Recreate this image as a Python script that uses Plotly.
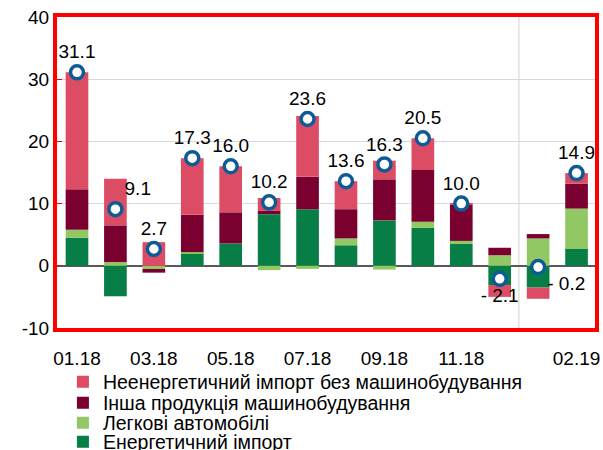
import plotly.graph_objects as go

categories = ["01.18", "02.18", "03.18", "04.18", "05.18", "06.18", "07.18",
              "08.18", "09.18", "10.18", "11.18", "12.18", "01.19", "02.19"]
tick_labels = ["01.18", "03.18", "05.18", "07.18", "09.18", "11.18", "02.19"]
y_ticks = [-10, 0, 10, 20, 30, 40]
y_tick_text = ["-10", "0", "10", "20", "30", "40"]

energy = [4.5, -4.9, 0.0, 2.0, 3.6, 8.3, 9.1, 3.3, 7.3, 6.1, 3.5, -3.1, -3.5, 2.7]
cars = [1.3, 0.6, -0.5, 0.2, 0.0, -0.7, -0.5, 1.1, -0.6, 1.0, 0.5, 1.7, 4.4, 6.5]
machinery = [6.5, 5.9, -0.6, 6.0, 5.0, 0.6, 5.2, 4.7, 6.6, 8.3, 5.9, 1.2, 0.7, 4.0]
non_energy = [18.8, 7.5, 3.8, 9.1, 7.4, 2.0, 9.8, 4.5, 3.0, 5.1, 0.1, -1.9, -1.8, 1.7]
total = [31.1, 9.1, 2.7, 17.3, 16.0, 10.2, 23.6, 13.6, 16.3, 20.5, 10.0, -2.1, -0.2, 14.9]

names = ["Енергетичний імпорт", "Легкові автомобілі",
         "Інша продукція машинобудування", "Неенергетичний імпорт без машинобудування"]
colors = ["#067e45", "#92c864", "#7a0030", "#dc4d65"]
legend_ids = ["legend4", "legend3", "legend2", "legend"]
legend_rows_px = [382, 403, 423, 442]

text_pos = ["top center", "top right", "top center", "top center", "top center",
            "top center", "top center", "top center", "top center", "top center",
            "top center", "bottom center", "bottom right", "top center"]

FONT = "Liberation Sans, Arial"
FRAME = "red"
W, H = 603, 450
ML, MR, MT, MB = 57, 8, 17, 122
plot_h = H - MT - MB


def fmt(v):
    return f"- {abs(v):.1f}" if v < 0 else f"{v:.1f}"


fig = go.Figure()
for series, name, color, lg in zip([energy, cars, machinery, non_energy], names, colors, legend_ids):
    fig.add_trace(go.Bar(x=categories, y=series, name=name, marker_color=color,
                         marker_line_width=0, width=0.59, legend=lg))

fig.add_trace(go.Scatter(
    x=categories, y=total, mode="markers+text",
    text=[fmt(v) for v in total], textposition=text_pos,
    textfont=dict(size=19, color="#000000", family=FONT),
    marker=dict(size=13, color="white", line=dict(color="#0d5a96", width=3.5)),
    showlegend=False))

fig.add_vline(x=11.5, line_color="#d0d0d0", line_width=1, layer="below")

legend_common = dict(orientation="v", xanchor="left", yanchor="middle", x=0.011,
                     font=dict(size=19.5, family=FONT, color="#000000"), itemwidth=30,
                     bgcolor="rgba(0,0,0,0)", borderwidth=0)
legend_layout = {}
for lg, ypx in zip(["legend", "legend2", "legend3", "legend4"], legend_rows_px):
    legend_layout[lg] = dict(legend_common, y=(H - MB - ypx) / plot_h)

fig.update_layout(
    barmode="relative",
    width=W, height=H,
    margin=dict(l=ML, r=MR, t=MT, b=MB, autoexpand=False),
    paper_bgcolor="white", plot_bgcolor="white",
    font=dict(family=FONT, size=19, color="#000000"),
    **legend_layout,
    xaxis=dict(categoryorder="array", categoryarray=categories,
               tickvals=tick_labels, ticktext=tick_labels,
               range=[-0.52, 13.48], showline=True, mirror=True,
               linecolor=FRAME, linewidth=4,
               ticks="outside", ticklen=10, tickcolor="rgba(0,0,0,0)", showgrid=False,
               tickfont=dict(size=19)),
    yaxis=dict(range=[-10, 40], tickvals=y_ticks, ticktext=y_tick_text,
               showline=True, mirror=True, linecolor=FRAME, linewidth=4,
               ticks="inside", ticklen=5, tickcolor=FRAME,
               gridcolor="#d9d9d9", gridwidth=1,
               zeroline=True, zerolinecolor="#595959", zerolinewidth=1.5,
               tickfont=dict(size=19)),
)

fig.write_html("out.html", config={"displayModeBar": False},
               post_script="document.body.style.margin='0';document.body.style.padding='0';")
